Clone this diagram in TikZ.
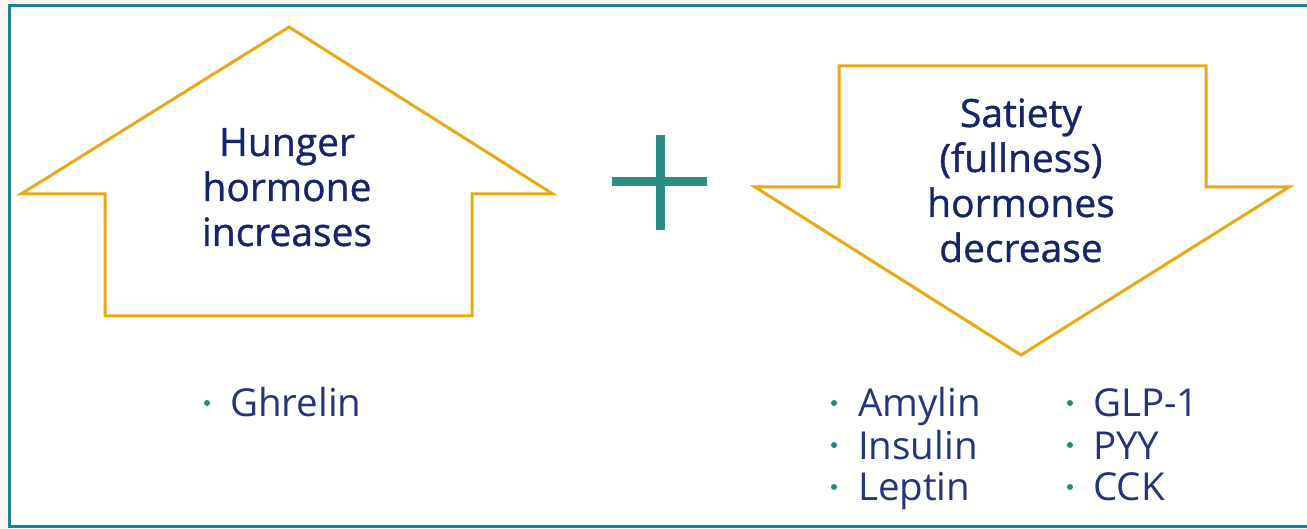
\documentclass[tikz,border=0pt]{standalone}
\usepackage{fontspec}
\setmainfont{Open Sans}
\newfontfamily\semib[FakeBold=0.9]{Open Sans}
\definecolor{bgout}{HTML}{F8F6F0}
\definecolor{frame}{HTML}{1C8393}
\definecolor{gold}{HTML}{E8A912}
\definecolor{plusc}{HTML}{2A8F82}
\definecolor{navy}{HTML}{172466}
\definecolor{listc}{HTML}{24357A}
\definecolor{dotc}{HTML}{1E8C7C}
\begin{document}
\begin{tikzpicture}[x=1pt,y=-1pt,
  arrowshape/.style={draw=gold,line width=3pt,line join=miter,fill=white},
  title/.style={text=navy,align=center,inner sep=0pt,anchor=base,
    font=\semib\fontsize{39}{45}\selectfont},
  item/.style={text=listc,inner sep=0pt,anchor=base west,
    font=\fontsize{38.5}{42}\selectfont},
  bullet/.style={circle,fill=dotc,inner sep=0pt,minimum size=6pt}]
\useasboundingbox (0,0) rectangle (1307,529);
\fill[bgout] (0,0) rectangle (1307,529);
\draw[frame,line width=3pt,fill=white] (9,6) rectangle (1320,526);
% up arrow
\draw[arrowshape] (289,27) -- (553,194) -- (472,194) -- (472,316) -- (105,316) -- (105,194) -- (21,194) -- cycle;
% down arrow
\draw[arrowshape] (839,66) -- (1206,66) -- (1206,187) -- (1289,187) -- (1021,355) -- (755,187) -- (839,187) -- cycle;
% plus
\coordinate (pl) at (612,182);
\coordinate (pr) at (707,182);
\coordinate (pt) at (660,135);
\coordinate (pb) at (660,230);
\draw[plusc,line width=9pt] (pl) -- (pr);
\draw[plusc,line width=9pt] (pt) -- (pb);
% titles
\node[title] (hunger) at (287,246) {Hunger\\hormone\\increases};
\node[title] (satiety) at (1021,262) {Satiety\\(fullness)\\hormones\\decrease};
% lists
\node[bullet] (b1) at (207,403) {};
\node[item] (ghrelin) at (230,417) {Ghrelin};
\node[bullet] (b2) at (834,403) {};
\node[item] (amylin) at (858,417) {Amylin};
\node[bullet] (b3) at (834,445) {};
\node[item] (insulin) at (858,459) {Insulin};
\node[bullet] (b4) at (834,487) {};
\node[item] (leptin) at (858,500) {Leptin};
\node[bullet] (b5) at (1070,403) {};
\node[item] (glp) at (1093,417) {GLP-1};
\node[bullet] (b6) at (1070,445) {};
\node[item] (pyy) at (1093,459) {PYY};
\node[bullet] (b7) at (1070,487) {};
\node[item] (cck) at (1093,500) {CCK};
\end{tikzpicture}
\end{document}
